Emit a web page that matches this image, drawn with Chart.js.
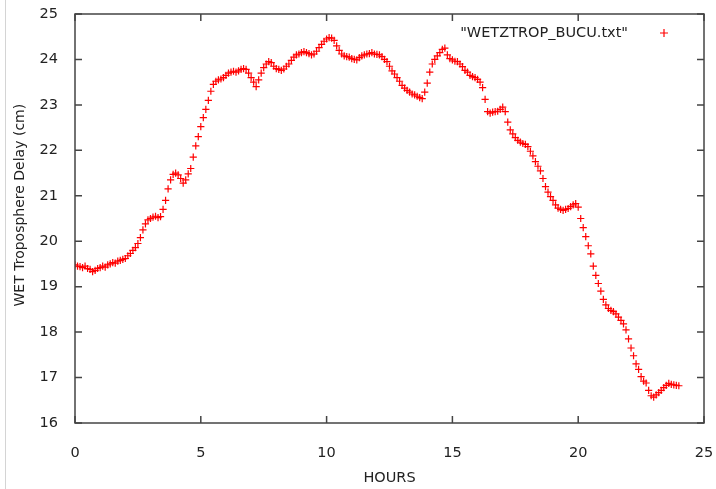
<!DOCTYPE html>
<html>
<head>
<meta charset="utf-8">
<title>WET Troposphere Delay</title>
<script src="https://cdn.jsdelivr.net/npm/chart.js@4"></script>
<style>
    html, body { margin: 0; padding: 0; background: #fff; }
    #wrap { position: relative; width: 716px; height: 489px; }
    #edge { position: absolute; left: 5px; top: 0; width: 1px; height: 489px; background: #d4d4d4; pointer-events: none; }
</style>
</head>
<body>
<div id="wrap">
    <canvas id="wet-chart"></canvas>
    <div id="edge"></div>
</div>
<script>
// Samples are 0.1 h apart, starting at 0 h
const sampleStepHours = 0.1;

// WET troposphere delay (cm), ten samples per row (one hour)
const wetDelay = [
    19.48, 19.45, 19.44, 19.42, 19.45, 19.40, 19.38, 19.33, 19.36, 19.40,
    19.42, 19.45, 19.43, 19.48, 19.50, 19.53, 19.52, 19.56, 19.58, 19.60,
    19.62, 19.68, 19.73, 19.80, 19.86, 19.95, 20.08, 20.25, 20.38, 20.47,
    20.50, 20.53, 20.55, 20.52, 20.54, 20.70, 20.90, 21.15, 21.35, 21.47,
    21.50, 21.46, 21.38, 21.28, 21.35, 21.48, 21.60, 21.85, 22.10, 22.30,
    22.52, 22.72, 22.90, 23.10, 23.30, 23.45, 23.52, 23.55, 23.57, 23.60,
    23.65, 23.70, 23.72, 23.74, 23.72, 23.75, 23.78, 23.80, 23.78, 23.70,
    23.60, 23.50, 23.40, 23.55, 23.70, 23.82, 23.90, 23.95, 23.93, 23.85,
    23.80, 23.78, 23.76, 23.79, 23.85, 23.90, 23.98, 24.05, 24.10, 24.12,
    24.15, 24.17, 24.15, 24.13, 24.10, 24.12, 24.18, 24.26, 24.33, 24.40,
    24.45, 24.48, 24.47, 24.42, 24.30, 24.20, 24.12, 24.08, 24.06, 24.05,
    24.02, 24.00, 23.99, 24.04, 24.08, 24.10, 24.12, 24.13, 24.15, 24.12,
    24.11, 24.10, 24.06, 24.00, 23.95, 23.85, 23.75, 23.68, 23.60, 23.52,
    23.43, 23.37, 23.32, 23.28, 23.24, 23.22, 23.19, 23.16, 23.14, 23.28,
    23.48, 23.72, 23.90, 24.00, 24.08, 24.15, 24.22, 24.25, 24.10, 24.02,
    23.99, 23.96, 23.95, 23.90, 23.84, 23.76, 23.72, 23.65, 23.62, 23.60,
    23.56, 23.50, 23.38, 23.12, 22.85, 22.82, 22.84, 22.85, 22.86, 22.90,
    22.95, 22.85, 22.62, 22.45, 22.36, 22.28, 22.22, 22.18, 22.15, 22.13,
    22.08, 21.98, 21.88, 21.75, 21.65, 21.55, 21.38, 21.20, 21.08, 20.98,
    20.90, 20.80, 20.73, 20.70, 20.68, 20.70, 20.72, 20.76, 20.80, 20.83,
    20.75, 20.50, 20.30, 20.10, 19.90, 19.72, 19.45, 19.25, 19.07, 18.90,
    18.72, 18.60, 18.52, 18.48, 18.45, 18.40, 18.33, 18.26, 18.18, 18.05,
    17.85, 17.65, 17.48, 17.30, 17.18, 17.02, 16.92, 16.88, 16.72, 16.60,
    16.57, 16.62, 16.67, 16.72, 16.78, 16.83, 16.87, 16.85, 16.84, 16.83,
    16.82
];

const seriesLabel = '"WETZTROP_BUCU.txt"';
const xTicks = [0, 5, 10, 15, 20, 25];
const yTicks = [16, 17, 18, 19, 20, 21, 22, 23, 24, 25];

const points = wetDelay.map((v, i) => ({ x: +(i * sampleStepHours).toFixed(1), y: v }));

const FONT = 'DejaVu Sans';
const INK = '#222';
const RED = '#ff0000';

// gnuplot-like frame with inward ticks on all four sides, plus the key
const framePlugin = {
    id: 'frame',
    afterDatasetsDraw(chart) {
        const { ctx, chartArea: a, scales } = chart;
        const t = 7;
        ctx.save();
        ctx.strokeStyle = '#444';
        ctx.lineWidth = 1.5;
        ctx.strokeRect(a.left, a.top, a.right - a.left, a.bottom - a.top);
        ctx.beginPath();
        xTicks.forEach(v => {
            const px = scales.x.getPixelForValue(v);
            ctx.moveTo(px, a.bottom); ctx.lineTo(px, a.bottom - t);
            ctx.moveTo(px, a.top); ctx.lineTo(px, a.top + t);
        });
        yTicks.forEach(v => {
            const py = scales.y.getPixelForValue(v);
            ctx.moveTo(a.left, py); ctx.lineTo(a.left + t, py);
            ctx.moveTo(a.right, py); ctx.lineTo(a.right - t, py);
        });
        ctx.stroke();

        // key
        const ky = a.top + 19;
        ctx.font = '14.5px "' + FONT + '"';
        ctx.fillStyle = INK;
        ctx.textAlign = 'right';
        ctx.textBaseline = 'middle';
        ctx.fillText(seriesLabel, a.right - 76, ky);
        const kx = a.right - 40;
        ctx.strokeStyle = RED;
        ctx.lineWidth = 1.2;
        ctx.beginPath();
        ctx.moveTo(kx - 4, ky); ctx.lineTo(kx + 4, ky);
        ctx.moveTo(kx, ky - 4); ctx.lineTo(kx, ky + 4);
        ctx.stroke();
        ctx.restore();
    }
};

const ctx = document.getElementById('wet-chart').getContext('2d');
new Chart(ctx, {
    type: 'scatter',
    data: {
        datasets: [{
            label: seriesLabel,
            data: points,
            showLine: false,
            pointStyle: 'cross',
            pointRadius: 3.6,
            pointBorderWidth: 1.2,
            pointBorderColor: RED,
            pointBackgroundColor: RED
        }]
    },
    options: {
        responsive: true,
        maintainAspectRatio: false,
        animation: false,
        layout: { padding: { left: 0, top: 14, right: 12, bottom: 0 } },
        plugins: {
            legend: { display: false },
            tooltip: { enabled: false }
        },
        scales: {
            x: {
                type: 'linear',
                min: 0,
                max: 25,
                afterBuildTicks: s => { s.ticks = xTicks.map(v => ({ value: v })); },
                afterFit: s => { s.height = 66; s.paddingLeft = 0; s.paddingRight = 0; },
                grid: { display: false },
                border: { display: false },
                ticks: { color: INK, padding: 14, font: { family: FONT, size: 14.5 }, maxRotation: 0 },
                title: { display: true, text: 'HOURS', color: INK, padding: { top: 0, bottom: 2 }, font: { family: FONT, size: 14.5 } }
            },
            y: {
                min: 16,
                max: 25,
                afterBuildTicks: s => { s.ticks = yTicks.map(v => ({ value: v })); },
                afterFit: s => { s.width = 75; s.paddingTop = 0; s.paddingBottom = 0; },
                grid: { display: false },
                border: { display: false },
                ticks: { color: INK, padding: 9, font: { family: FONT, size: 14.5 } },
                title: { display: true, text: '      WET Troposphere Delay (cm)', color: INK, padding: { top: 12, bottom: 0 }, font: { family: FONT, size: 14 } }
            }
        }
    },
    plugins: [framePlugin]
});
</script>
</body>
</html>
